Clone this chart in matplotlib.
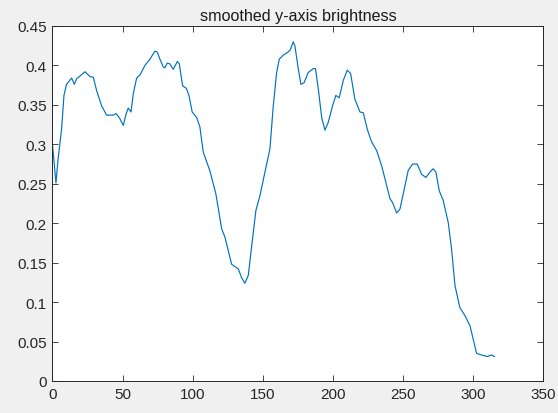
import numpy as np
import matplotlib.pyplot as plt

# values
x = [0, 2.5, 4, 6.5, 8.2, 10, 13.7, 15.6, 17.2, 23.2, 26.7, 29.1, 31.5, 35,
     38.6, 43.4, 45.3, 47.6, 50.5, 52.4, 54, 56, 57.6, 60, 62.4, 65.9, 69.5,
     73, 74.7, 76.6, 79, 80.2, 81.8, 83.7, 86.1, 89, 90.4, 92.8, 95.4, 97.3,
     99.6, 102.8, 105.1, 107.5, 112.3, 116.5, 120.6, 123, 127.7, 132.5, 134.8,
     137.2, 139.6, 142, 145, 147.9, 152.2, 155, 157.4, 159.8, 161.7, 164.5,
     168, 169.6, 171.6, 172.8, 175.2, 177.1, 179.3, 182.3, 185.9, 187.5,
     189.5, 191.9, 194.2, 196.6, 199.7, 202, 204.4, 207.3, 210.1, 212.5,
     215.6, 219.2, 221.6, 224.4, 227.5, 231.1, 234.6, 238.2, 240.6, 242.5,
     245.3, 247.7, 250, 253.6, 256.7, 260, 263.1, 266.2, 269.1, 271.4, 273.3,
     275.7, 278.5, 282.1, 284.5, 286.9, 290.4, 294, 297.6, 299.9, 302.3,
     305.9, 309.9, 313, 315]
y = [0.300, 0.251, 0.281, 0.319, 0.362, 0.376, 0.384, 0.376, 0.383, 0.392,
     0.386, 0.385, 0.368, 0.349, 0.337, 0.337, 0.339, 0.334, 0.324, 0.338,
     0.346, 0.341, 0.364, 0.384, 0.388, 0.400, 0.408, 0.418, 0.417, 0.408,
     0.398, 0.397, 0.403, 0.402, 0.395, 0.405, 0.402, 0.374, 0.371, 0.362,
     0.341, 0.334, 0.322, 0.290, 0.266, 0.237, 0.193, 0.182, 0.148, 0.142,
     0.131, 0.124, 0.134, 0.171, 0.216, 0.235, 0.271, 0.294, 0.349, 0.391,
     0.408, 0.413, 0.417, 0.420, 0.430, 0.425, 0.396, 0.376, 0.378, 0.391,
     0.396, 0.396, 0.370, 0.334, 0.318, 0.328, 0.349, 0.362, 0.359, 0.381,
     0.394, 0.390, 0.357, 0.341, 0.340, 0.319, 0.303, 0.292, 0.273, 0.248,
     0.231, 0.226, 0.213, 0.218, 0.237, 0.267, 0.275, 0.275, 0.262, 0.258,
     0.265, 0.269, 0.265, 0.241, 0.229, 0.201, 0.167, 0.121, 0.093, 0.083,
     0.070, 0.053, 0.035, 0.033, 0.031, 0.033, 0.031]

xticks = [0, 50, 100, 150, 200, 250, 300, 350]
yticks = [0, 0.05, 0.1, 0.15, 0.2, 0.25, 0.3, 0.35, 0.4, 0.45]
ylabels = ["0", "0.05", "0.1", "0.15", "0.2", "0.25", "0.3", "0.35", "0.4", "0.45"]

plt.rcParams["font.family"] = ["Liberation Sans", "DejaVu Sans"]

fig = plt.figure(figsize=(5.58, 4.14), dpi=100, facecolor="#f0f0f0")
ax = fig.add_axes([0.094, 0.0773, 0.88, 0.8575])
ax.plot(x, y, color="#0072bd", linewidth=0.85)

ax.set_xlim(0, 350)
ax.set_ylim(0, 0.45)
ax.set_xticks(xticks)
ax.set_yticks(yticks)
ax.set_yticklabels(ylabels)
ax.tick_params(direction="in", length=4, width=0.6, colors="#262626",
               labelsize=11, top=True, right=True, pad=4)
for s in ax.spines.values():
    s.set_color("#262626")
    s.set_linewidth(0.7)
ax.set_title("smoothed y-axis brightness", fontsize=11.6, color="#1a1a1a", pad=4)

fig.savefig("out.png", dpi=100, facecolor=fig.get_facecolor())
